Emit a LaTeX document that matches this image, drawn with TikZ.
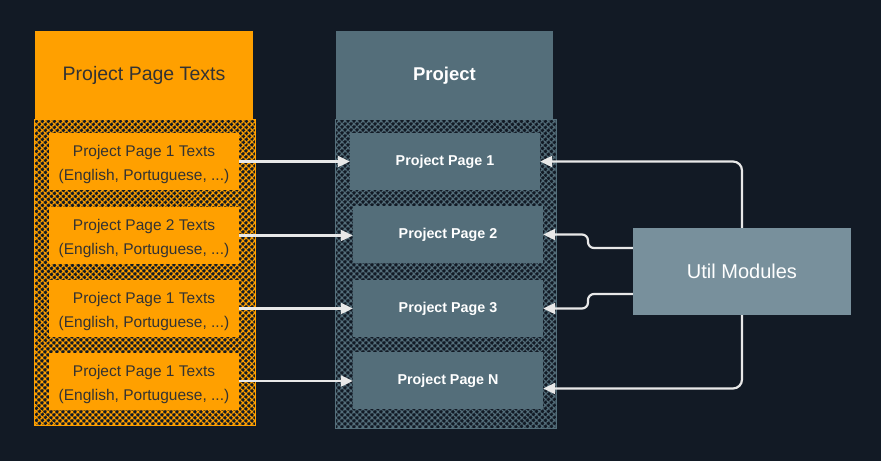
\documentclass[tikz,border=0pt]{standalone}
\usepackage{fontspec}
\setmainfont{Liberation Sans}
\usetikzlibrary{arrows.meta,patterns.meta,calc}
\definecolor{bgc}{HTML}{121A25}
\definecolor{orng}{HTML}{FFA000}
\definecolor{slate}{HTML}{546E7A}
\definecolor{utilc}{HTML}{78909C}
\definecolor{darktxt}{HTML}{333333}
\definecolor{arrc}{HTML}{E8E8E8}
\tikzset{
  hdr/.style={minimum width=218pt, minimum height=89pt, inner sep=0pt},
  obox/.style={fill=orng, minimum width=190pt, minimum height=57pt, inner sep=0pt},
  otext/.style={align=center, text=darktxt, yshift=-3pt, font=\fontsize{15.5pt}{24pt}\selectfont},
  sbox/.style={fill=slate, minimum width=190pt, minimum height=57pt, inner sep=0pt,
    text=white, font=\bfseries\fontsize{14.3pt}{17pt}\selectfont},
  hatchA/.style={pattern={Lines[angle=45,distance=4pt,line width=1.4pt]}},
  hatchB/.style={pattern={Lines[angle=-45,distance=4pt,line width=1.4pt]}},
  arr/.style={draw=arrc, line width=2.2pt, -{Triangle[length=12pt,width=11pt]}},
}
\begin{document}
\begin{tikzpicture}[x=1pt,y=-1pt]
\fill[bgc] (0,0) rectangle (881,461);
\useasboundingbox (0,0) rectangle (881,461);

% left column
\node[hdr, fill=orng, text=darktxt, font=\fontsize{19.5pt}{22pt}\selectfont] (lh) at (144,75.5) {Project Page Texts};
\node[minimum width=220pt, minimum height=305pt, inner sep=0pt] (lreg) at (145,272.5) {};
\fill[hatchA, pattern color=orng] (lreg.north west) rectangle (lreg.south east);
\fill[hatchB, pattern color=orng] (lreg.north west) rectangle (lreg.south east);
\draw[orng, line width=0.8pt] (lreg.north west) rectangle (lreg.south east);
\node[obox] (o1) at (144,161.5) {};
\node[obox] (o2) at (144,235.5) {};
\node[obox] (o3) at (144,308.5) {};
\node[obox] (o4) at (144,381) {};
\node[otext] (t1) at (o1) {Project Page 1 Texts\\(English, Portuguese, ...)};
\node[otext] (t2) at (o2) {Project Page 2 Texts\\(English, Portuguese, ...)};
\node[otext] (t3) at (o3) {Project Page 1 Texts\\(English, Portuguese, ...)};
\node[otext] (t4) at (o4) {Project Page 1 Texts\\(English, Portuguese, ...)};

% middle column
\node[hdr, minimum width=217pt, fill=slate, text=white, font=\bfseries\fontsize{18.5pt}{22pt}\selectfont] (mh) at (444.5,75.5) {Project};
\node[minimum width=220pt, minimum height=308pt, inner sep=0pt] (mreg) at (446,274) {};
\fill[hatchA, pattern color=slate] (mreg.north west) rectangle (mreg.south east);
\fill[hatchB, pattern color=slate] (mreg.north west) rectangle (mreg.south east);
\draw[slate, line width=0.8pt] (mreg.north west) rectangle (mreg.south east);
\node[sbox] (p1) at (445,161.5) {Project Page 1};
\node[sbox] (p2) at (448,234.5) {Project Page 2};
\node[sbox] (p3) at (448,308.5) {Project Page 3};
\node[sbox] (pN) at (448,380.5) {Project Page N};

% util
\node[fill=utilc, minimum width=218pt, minimum height=87pt, inner sep=0pt, text=white,
  font=\fontsize{20pt}{24pt}\selectfont] (u) at (742,271.5) {Util Modules};

% left arrows
\draw[arr] (o1.east) -- (p1.west);
\draw[arr] (o2.east) -- (o2.east -| p2.west);
\draw[arr] (o3.east) -- (o3.east -| p3.west);
\draw[arr] (o4.east) -- (o4.east -| pN.west);

% right arrows
\coordinate (ua) at ($(u.west)+(0,-23.5)$);
\coordinate (ub) at ($(u.west)+(0,22.5)$);
\coordinate (pNe) at ($(pN.east)+(0,8)$);
\draw[arr, rounded corners=9pt] (u.north) |- (p1.east);
\draw[arr, rounded corners=9pt] (u.south) |- (pNe);
\draw[arr, rounded corners=6pt] (ua) -- (588,248) -- (588,234.5) -- (p2.east);
\draw[arr, rounded corners=6pt] (ub) -- (588,294) -- (588,308.5) -- (p3.east);
\end{tikzpicture}
\end{document}
